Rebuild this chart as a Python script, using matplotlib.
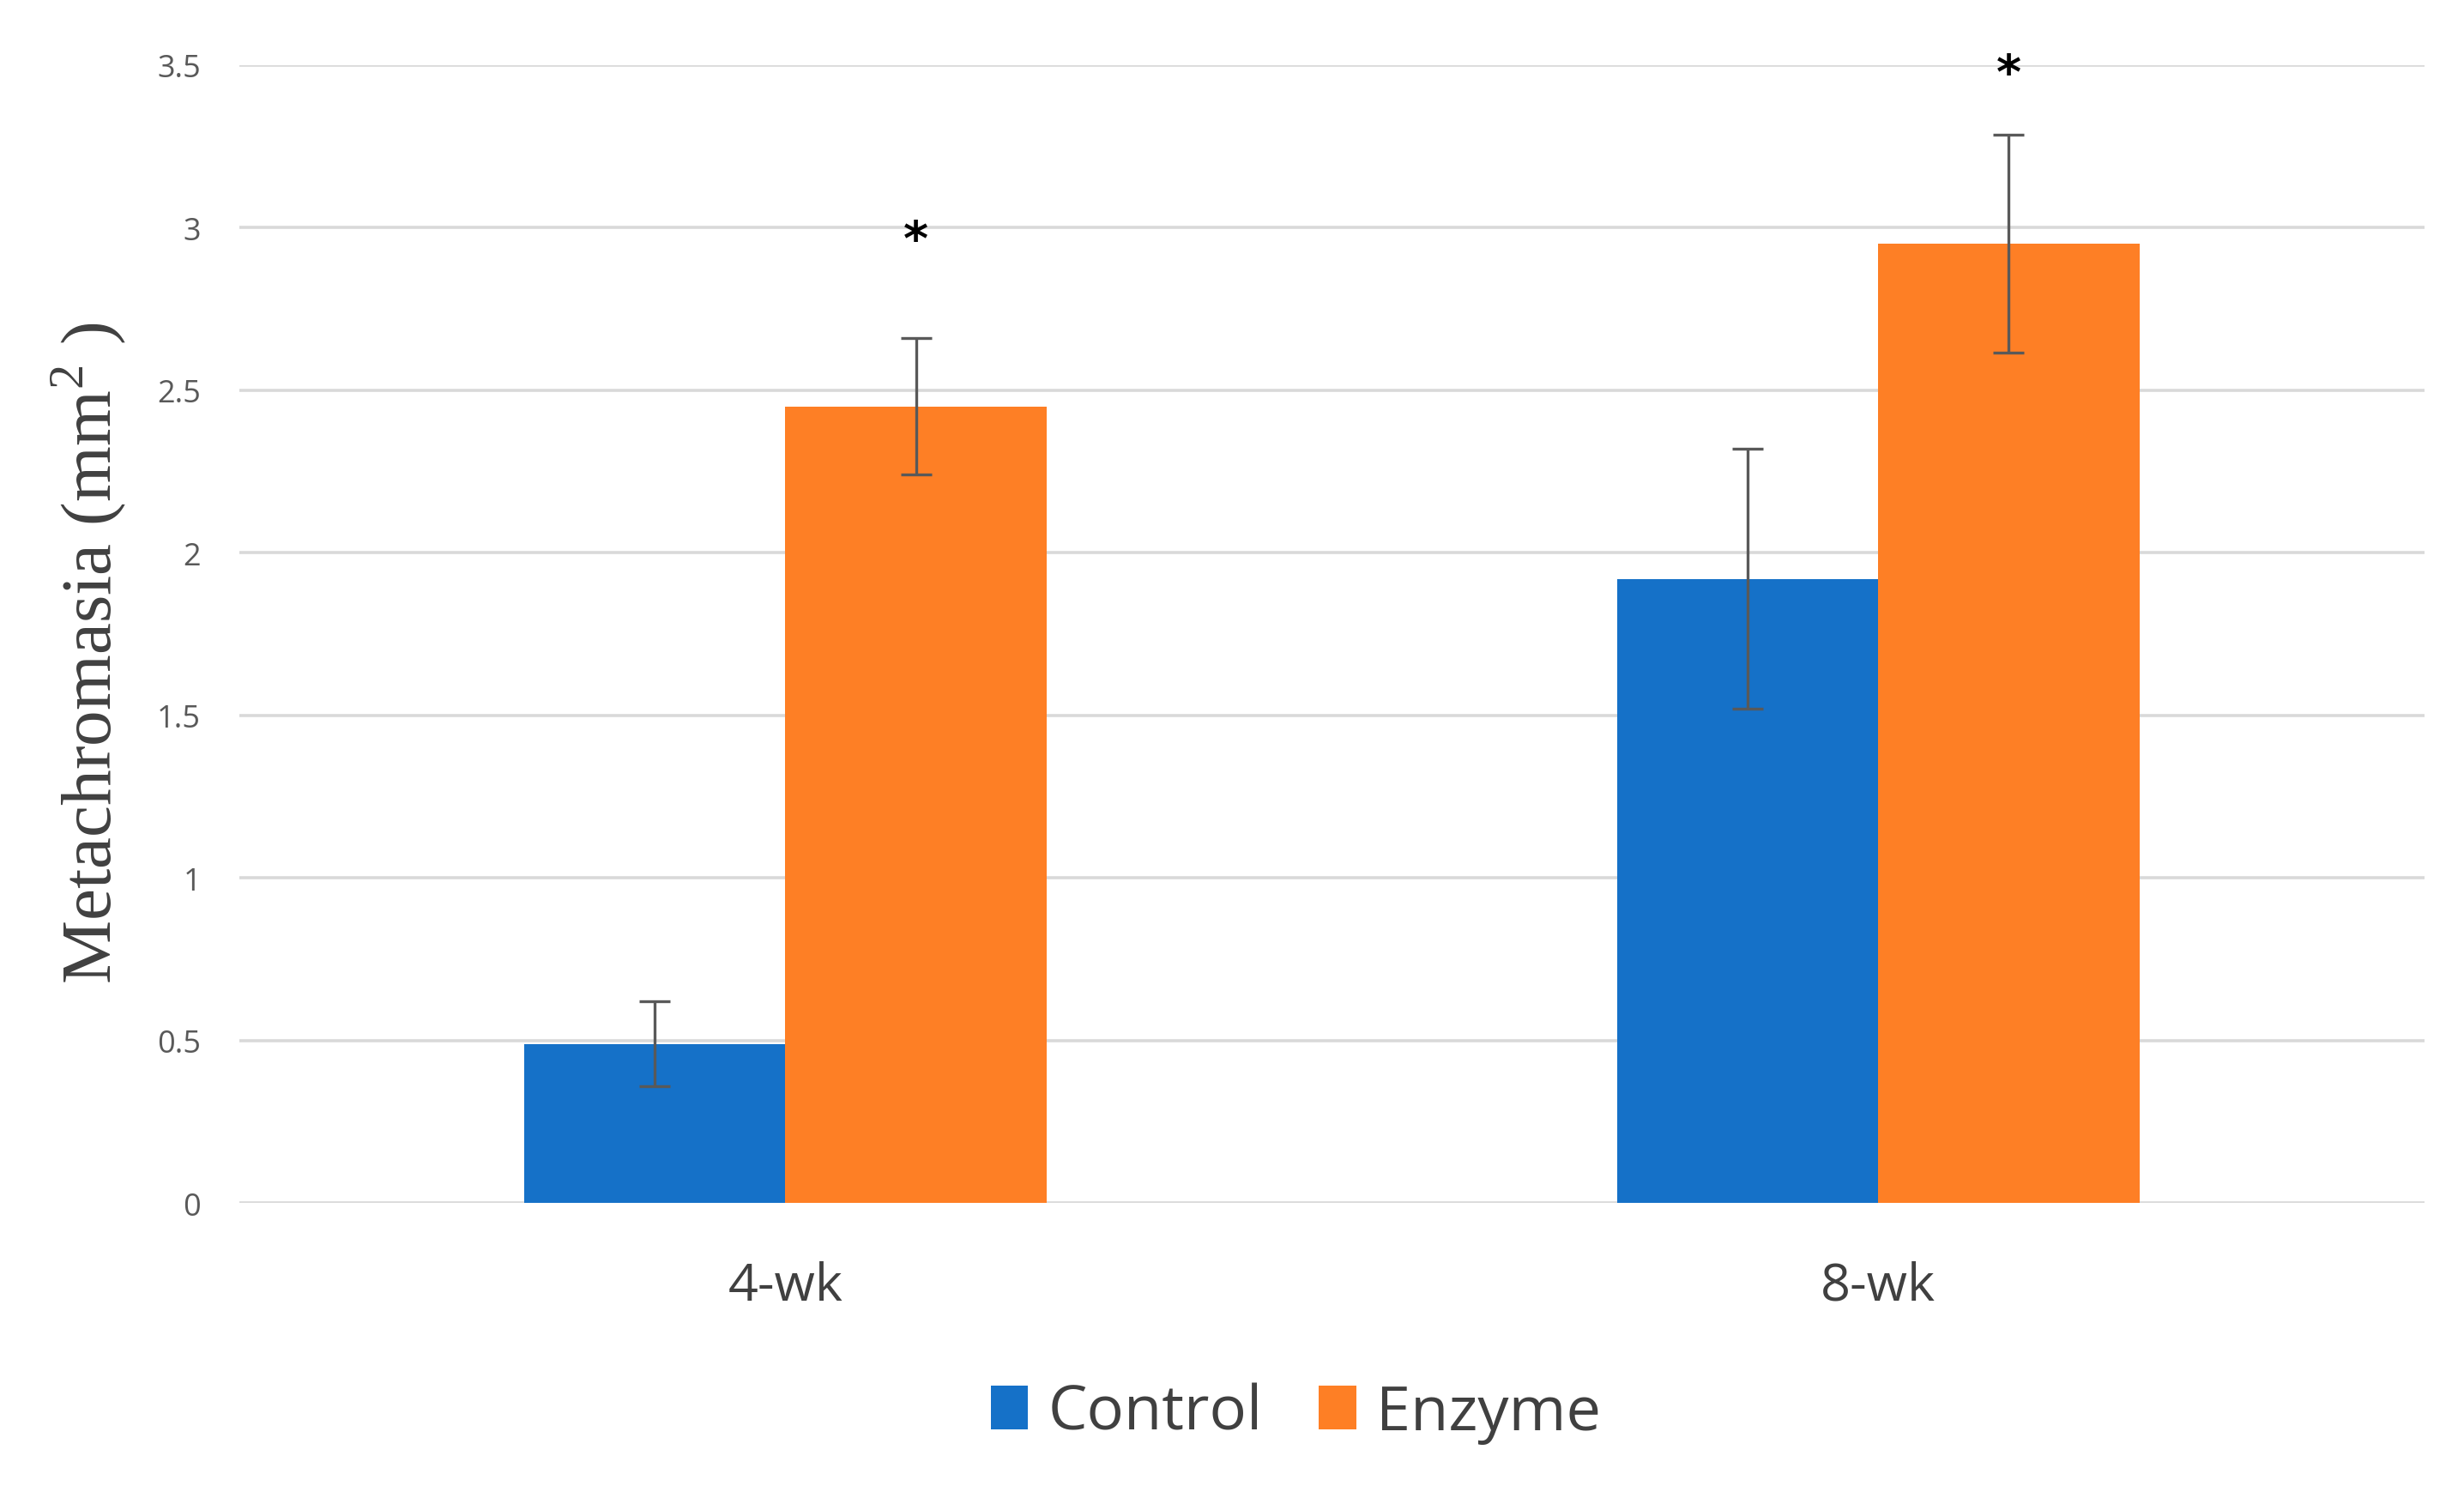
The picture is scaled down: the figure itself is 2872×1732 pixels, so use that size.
import numpy as np
import matplotlib
matplotlib.use("Agg")
import matplotlib.pyplot as plt

plt.rcParams['mathtext.fontset'] = 'custom'
plt.rcParams['mathtext.rm'] = 'Liberation Serif'

# values
groups = ['4-wk', '8-wk']
control = [0.49, 1.92]
control_err = [0.13, 0.40]
enzyme = [2.45, 2.95]
enzyme_err = [0.21, 0.335]
star_y = [2.96, 3.47]

blue = '#1571C8'
orange = '#FE7F25'
grey = '#595959'

fig = plt.figure(figsize=(14.36, 8.665), dpi=200)
ax = fig.add_axes([0.097, 0.1903, 0.887, 0.7653])

x = np.arange(len(groups))
w = 0.239
ax.bar(x - w / 2, control, w, color=blue, label='Control', zorder=2)
ax.bar(x + w / 2, enzyme, w, color=orange, label='Enzyme', zorder=2)
ax.errorbar(x - w / 2, control, yerr=control_err, fmt='none', ecolor=grey,
            elinewidth=1.2, capsize=6.5, capthick=1.2, zorder=3)
ax.errorbar(x + w / 2, enzyme, yerr=enzyme_err, fmt='none', ecolor=grey,
            elinewidth=1.2, capsize=6.5, capthick=1.2, zorder=3)

for xi, yi in zip(x + w / 2, star_y):
    ax.text(xi, yi, '*', ha='center', va='center', fontsize=20,
            fontweight='bold', color='black', zorder=4)

ax.set_xlim(-0.5, 1.5)
ax.set_ylim(0, 3.5)
ax.set_yticks(np.arange(0, 3.51, 0.5))
ax.set_yticklabels(['0', '0.5', '1', '1.5', '2', '2.5', '3', '3.5'])
ax.set_xticks(x)
ax.set_xticklabels(groups)
ax.grid(axis='y', color='#d9d9d9', linewidth=1.3, zorder=0)
ax.set_axisbelow(True)
for s in ax.spines.values():
    s.set_visible(False)
ax.tick_params(axis='y', length=0, pad=16, labelsize=13, labelcolor='#595959')
ax.tick_params(axis='x', length=0, pad=24, labelsize=22, labelcolor='#404040')
for lab in ax.get_yticklabels() + ax.get_xticklabels():
    lab.set_family('Open Sans')

fig.text(0.036, 0.561, 'Metachromasia (mm$^{2}$ )', rotation=90,
         ha='center', va='center', fontsize=30, family='Liberation Serif',
         color='#404040')

ax.legend(loc='center', bbox_to_anchor=(0.526, 0.049),
          bbox_transform=fig.transFigure, ncol=2, frameon=False,
          prop={'family': 'Open Sans', 'size': 26},
          handlelength=0.6, handleheight=0.7, handletextpad=0.33,
          columnspacing=0.9, labelcolor='#404040')

fig.savefig('out.png', dpi=200)
